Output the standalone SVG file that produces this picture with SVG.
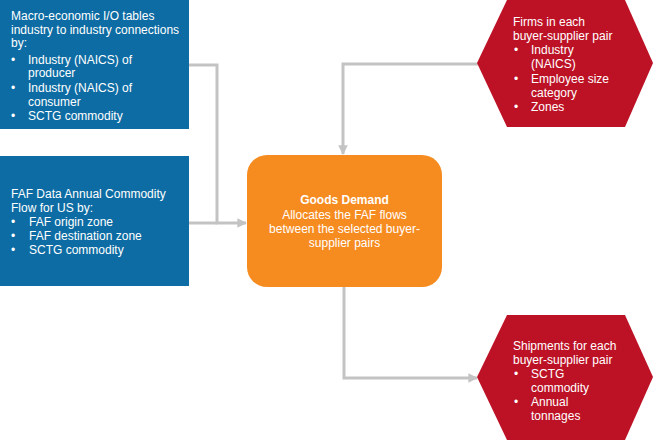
<svg xmlns="http://www.w3.org/2000/svg" width="657" height="445" viewBox="0 0 657 445">
<style>
.t{font-family:"Liberation Sans",Arial,sans-serif;font-size:12px;fill:#ffffff}
.b{font-weight:bold}
.c{fill:none;stroke:#c3c3c3;stroke-width:3}
.blue{fill:#0d6ca3}
.red{fill:#bd1226}
</style>
<defs>
<marker id="ah" viewBox="0 0 10 10" refX="9" refY="5" markerWidth="3.2" markerHeight="3.2" orient="auto" markerUnits="strokeWidth">
<path d="M0,0 L10,5 L0,10 z" fill="#c3c3c3"/>
</marker>
</defs>
<rect width="657" height="445" fill="#ffffff"/>
<g id="connectors">
<path class="c" d="M189,65 H217 V223 H246" marker-end="url(#ah)"/>
<path class="c" d="M189,223 H217"/>
<path class="c" d="M478,64 H343 V154" marker-end="url(#ah)"/>
<path class="c" d="M344,287 V378 H477" marker-end="url(#ah)"/>
</g>
<g id="io-tables">
<rect class="blue" x="0" y="0" width="189" height="129"/>
<text class="t" x="11" y="19.5">Macro-economic I/O tables</text>
<text class="t" x="11" y="33.5">industry to industry connections</text>
<text class="t" x="11" y="47">by:</text>
<text class="t" x="11" y="63.5">•</text><text class="t" x="28" y="63.5">Industry (NAICS) of</text>
<text class="t" x="28" y="77">producer</text>
<text class="t" x="11" y="92">•</text><text class="t" x="28" y="92">Industry (NAICS) of</text>
<text class="t" x="28" y="105.5">consumer</text>
<text class="t" x="11" y="120">•</text><text class="t" x="28" y="120">SCTG commodity</text>
</g>
<g id="faf-data">
<rect class="blue" x="0" y="156" width="189" height="130"/>
<text class="t" x="11" y="197.5">FAF Data Annual Commodity</text>
<text class="t" x="11" y="211.5">Flow for US by:</text>
<text class="t" x="11" y="225.5">•</text><text class="t" x="29" y="225.5">FAF origin zone</text>
<text class="t" x="11" y="240">•</text><text class="t" x="29" y="240">FAF destination zone</text>
<text class="t" x="11" y="254">•</text><text class="t" x="29" y="254">SCTG commodity</text>
</g>
<g id="goods-demand">
<rect x="247" y="155" width="195" height="132" rx="20" ry="20" fill="#f68b1f"/>
<text class="t b" x="344.5" y="204" text-anchor="middle">Goods Demand</text>
<text class="t" x="344.5" y="218.5" text-anchor="middle">Allocates the FAF flows</text>
<text class="t" x="344.5" y="232.5" text-anchor="middle">between the selected buyer-</text>
<text class="t" x="344.5" y="246.5" text-anchor="middle">supplier pairs</text>
</g>
<g id="firms">
<polygon class="red" points="477,63 507,0 625,0 653,63 625,127 507,127"/>
<text class="t" x="513" y="25.5">Firms in each</text>
<text class="t" x="513" y="39.5">buyer-supplier pair</text>
<text class="t" x="514" y="53.5">•</text><text class="t" x="531" y="53.5">Industry</text>
<text class="t" x="531" y="67.5">(NAICS)</text>
<text class="t" x="514" y="82.5">•</text><text class="t" x="531" y="82.5">Employee size</text>
<text class="t" x="531" y="96.5">category</text>
<text class="t" x="514" y="111">•</text><text class="t" x="531" y="111">Zones</text>
</g>
<g id="shipments">
<polygon class="red" points="477,377 507,315 625,315 653,377 625,440 507,440"/>
<text class="t" x="513" y="349.5">Shipments for each</text>
<text class="t" x="513" y="363.5">buyer-supplier pair</text>
<text class="t" x="514" y="377.5">•</text><text class="t" x="531" y="377.5">SCTG</text>
<text class="t" x="531" y="391.5">commodity</text>
<text class="t" x="514" y="405.5">•</text><text class="t" x="531" y="405.5">Annual</text>
<text class="t" x="531" y="419.5">tonnages</text>
</g>
</svg>
